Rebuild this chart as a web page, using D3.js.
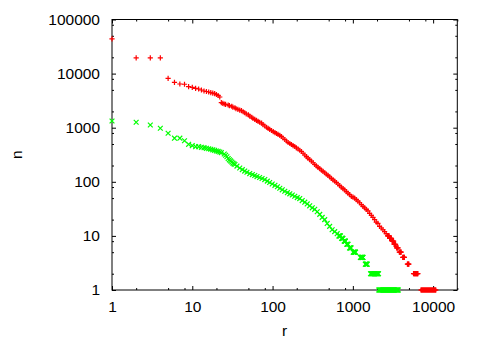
<!DOCTYPE html>
<html><head><meta charset="utf-8">
<script src="https://cdn.jsdelivr.net/npm/d3@7"></script>
<style>body{margin:0;background:#fff} svg{display:block} text{font-family:"Liberation Sans",Arial,sans-serif;fill:#000}</style>
</head><body><svg id="c" width="485" height="339"></svg>
<script>
// ---- data ----
const xTickValues = [1, 10, 100, 1000, 10000];
const yTickValues = [1, 10, 100, 1000, 10000, 100000];
const minorMultipliers = [2, 5, 8];
const xDomain = [1, 20000];
const yDomain = [1, 100000];
const xLabel = "r";
const yLabel = "n";

// red series (+): individual readings
const redRanks = [1,2,3,4,5,6,7,8,9,10,11,12,13,14,15,16,17,18,19,20,21,22,
  23,24,25,26,28,29,31,32,34,35, 37,39,41,43,45,47,50,52,55,57,
  60,63,66,69,73,76,80,84,88,92, 97,102,107,112,117,123,129,135,142,149,
  156,164,172,180,189,198,208,218,229,240, 252,264,276,290,305,320,335,351,368,387,
  406,425,446,467,490,514,540,566,594,623, 653,685,719,754,791,829,869,912,958,1004,
  1053,1104,1157,1215,1276,1338,1402,1470,1541,1618, 1699,1781,1867,1957,2051,2154,2262,2371,2486,2600];
const redCounts = [44000,19500,19500,19500,8190,6900,6420,6350,5730,5580,5350,5190,4980,4770,4670,4570,4440,4340,4250,4110,3940,3690,
  2900,2810,2740,2690,2630,2560,2490,2410,2340,2260, 2190,2120,2060,1970,1890,1800,1720,1640,1560,1490,
  1430,1370,1310,1260,1210,1140,1075,1020,975,930, 888,847,808,781,755,720,688,645,605,568,
  533,510,489,468,449,425,404,383,363,337, 313,293,275,258,242,225,209,197,185,175,
  165,156,147,139,131,123,116,109,103,97, 91,85,80,75,71,66,62,58,54,52,
  50,47,44,41,38,35,33,31,29,26, 24,22,20,18,17,15,14,13,12,11];
// red series: runs of ranks sharing the same count
const redRunStarts = [2710,2870,3080,3265,3505,3790,4180,4780,5700,7050];
const redRunEnds   = [2830,3000,3215,3405,3660,3990,4370,4990,6450,10800];
const redRunCounts = [10,9,8,7,6,5,4,3,2,1];

// green series (x): individual readings
const greenRanks = [1,2,3,4,5,6,7,8,9,10,11,12,13,14,15,16,17,18,19,20,21,22,23,25,26,27,28,29,30,31,32,33,34,36,39,42,45,48,52,56,60,64,69,74,80,86,92,99,107,115,123,132,142,153,164,176,189,203,218,234,252,270,290,312,335,360,387,415,446,479,514,552,594,638];
const greenCounts = [1330,1260,1120,975,790,640,640,575,493,465,446,446,434,427,416,408,399,390,382,371,364,356,346,326,310,290,270,255,243,232,222,215,209,195,180,168,158,150,142,136,131,125,120,115,110,103,97,91,86,81,76,71,67,63,60,57,54,51,49,45,42,39,36,33,31,28,25,22,20,17,15,13,12,11];
const greenRunStarts = [670,725,780,840,910,1010,1240,1430,1660,2105];
const greenRunEnds   = [700,750,805,870,950,1080,1335,1510,2090,3660];
const greenRunCounts = [10,9,8,7,6,5,4,3,2,1];

// ---- drawing ----
const svg = d3.select("#c");
const L = 112, R = 457.3, T = 19.5, B = 290;
const x = d3.scaleLog().domain(xDomain).range([L, R]);
const y = d3.scaleLog().domain(yDomain).range([B, T]);

function minorTicks(domain) {
  const out = [];
  for (let d = domain[0]; d < domain[1]; d *= 10) {
    minorMultipliers.forEach(m => { if (d * m <= domain[1]) out.push(d * m); });
  }
  return out;
}
const xMinor = minorTicks(xDomain);
const yMinor = minorTicks(yDomain);

const fontSize = "15.5px";
const fmt = d => String(d);
function styleAxis(sel) {
  sel.select(".domain").remove();
  sel.selectAll(".tick line").attr("stroke", "#000");
  sel.selectAll(".tick text").style("font-size", fontSize).attr("fill", "#000")
     .style("font-family", '"Liberation Sans", Arial, sans-serif');
}
const g = svg.append("g");
// bottom (labelled) and top mirror
g.append("g").attr("transform", `translate(0,${B})`)
  .call(d3.axisBottom(x).tickValues(xTickValues).tickFormat(fmt).tickSizeInner(-4).tickSizeOuter(0).tickPadding(11))
  .call(styleAxis);
g.append("g").attr("transform", `translate(0,${B})`)
  .call(d3.axisBottom(x).tickValues(xMinor).tickFormat("").tickSizeInner(-2).tickSizeOuter(0)).call(styleAxis);
g.append("g").attr("transform", `translate(0,${T})`)
  .call(d3.axisTop(x).tickValues(xTickValues).tickFormat("").tickSizeInner(-4).tickSizeOuter(0)).call(styleAxis);
g.append("g").attr("transform", `translate(0,${T})`)
  .call(d3.axisTop(x).tickValues(xMinor).tickFormat("").tickSizeInner(-2).tickSizeOuter(0)).call(styleAxis);
// left (labelled) and right mirror
g.append("g").attr("transform", `translate(${L},0)`)
  .call(d3.axisLeft(y).tickValues(yTickValues).tickFormat(fmt).tickSizeInner(-4).tickSizeOuter(0).tickPadding(12))
  .call(styleAxis);
g.append("g").attr("transform", `translate(${L},0)`)
  .call(d3.axisLeft(y).tickValues(yMinor).tickFormat("").tickSizeInner(-2).tickSizeOuter(0)).call(styleAxis);
g.append("g").attr("transform", `translate(${R},0)`)
  .call(d3.axisRight(y).tickValues(yTickValues).tickFormat("").tickSizeInner(-4).tickSizeOuter(0)).call(styleAxis);
g.append("g").attr("transform", `translate(${R},0)`)
  .call(d3.axisRight(y).tickValues(yMinor).tickFormat("").tickSizeInner(-2).tickSizeOuter(0)).call(styleAxis);

// border
svg.append("rect").attr("x", L).attr("y", T).attr("width", R - L).attr("height", B - T)
  .attr("fill", "none").attr("stroke", "#000").attr("stroke-width", 1);

// axis labels
svg.append("text").attr("x", (L + R) / 2).attr("y", 335.5)
  .attr("text-anchor", "middle").style("font-size", fontSize).text(xLabel);
svg.append("text").attr("transform", `translate(21.5,${(T + B) / 2}) rotate(-90)`)
  .attr("text-anchor", "middle").style("font-size", fontSize).text(yLabel);

// build point sets
function buildPoints(ranks, counts, runStarts, runEnds, runCounts) {
  const pts = ranks.map((r, i) => ({ r, n: counts[i] }));
  runStarts.forEach((s, i) => {
    let lastPx = -1e9;
    for (let r = s; r <= runEnds[i]; r++) {
      const px = x(r);
      if (px - lastPx >= 0.5 || r === runEnds[i]) { pts.push({ r, n: runCounts[i] }); lastPx = px; }
    }
  });
  return pts;
}
const redPts = buildPoints(redRanks, redCounts, redRunStarts, redRunEnds, redRunCounts);
const greenPts = buildPoints(greenRanks, greenCounts, greenRunStarts, greenRunEnds, greenRunCounts);

const plus = "M-2.6,0H2.6M0,-2.6V2.6";
const cross = "M-2.4,-2.4L2.4,2.4M-2.4,2.4L2.4,-2.4";

svg.append("g").selectAll("path").data(redPts).join("path")
  .attr("transform", d => `translate(${x(d.r)},${y(d.n)})`)
  .attr("d", plus).attr("fill", "none").attr("stroke", "#ff0000").attr("stroke-width", 1.2);
svg.append("g").selectAll("path").data(greenPts).join("path")
  .attr("transform", d => `translate(${x(d.r)},${y(d.n)})`)
  .attr("d", cross).attr("fill", "none").attr("stroke", "#00ff00").attr("stroke-width", 1.2);
</script>
</body></html>
